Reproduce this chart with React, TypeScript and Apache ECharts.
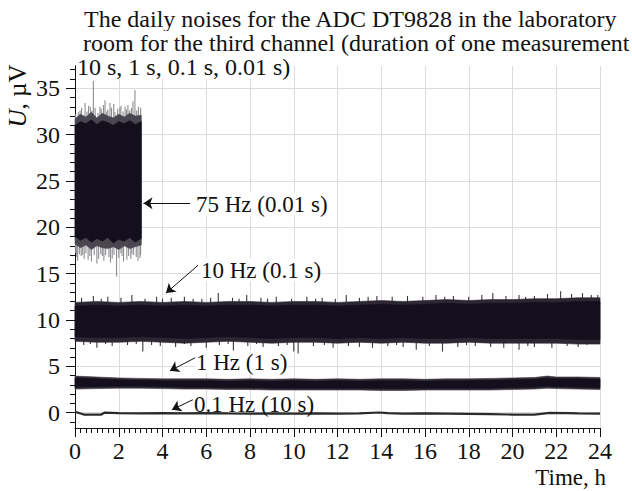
import React, { useEffect, useRef } from "react";
import * as echarts from "echarts";

// ---------- data ----------
const titleLines = [
  "The daily noises for the ADC DT9828 in the laboratory",
  "room for the third channel (duration of one measurement",
  "10 s, 1 s, 0.1 s, 0.01 s)",
];
const yMajorTicks = [0, 5, 10, 15, 20, 25, 30, 35];
const yMinorTicks = [-1, 1, 2, 3, 4, 6, 7, 8, 9, 11, 12, 13, 14, 16, 17, 18, 19, 21, 22, 23, 24, 26, 27, 28, 29, 31, 32, 33, 34, 36, 37];

// 75 Hz (0.01 s)
const hours75 = [0, 0.25, 0.5, 0.75, 1, 1.25, 1.5, 1.75, 2, 2.25, 2.5, 2.75, 3.03];
const core75Hi = [31.0, 31.4, 31.2, 31.6, 31.1, 31.5, 31.3, 31.0, 31.4, 31.2, 31.5, 31.1, 31.4];
const core75Lo = [19.0, 18.6, 18.9, 18.4, 18.8, 18.5, 18.9, 18.3, 18.7, 18.5, 18.9, 18.4, 18.8];
const fringe75Hi = [31.7, 32.2, 31.9, 32.4, 31.8, 32.3, 32.0, 31.8, 32.2, 31.9, 32.3, 32.0, 32.1];
const fringe75Lo = [18.2, 17.8, 18.1, 17.6, 18.0, 17.8, 17.7, 17.9, 17.6, 18.0, 17.7, 17.9, 18.1];
const center75 = 25;
const spikes75 = [
  [0.03, 32.2], [0.08, 16.8], [0.15, 32.4], [0.23, 32.6], [0.3, 32.9], [0.35, 17.0], [0.46, 33.4], [0.55, 32.5],
  [0.6, 16.5], [0.62, 33.1], [0.7, 33.0], [0.78, 32.6], [0.84, 35.8], [0.92, 32.9], [1.0, 16.1], [1.05, 32.3],
  [1.14, 33.0], [1.2, 32.8], [1.25, 16.9], [1.3, 33.2], [1.37, 33.7], [1.4, 17.0], [1.45, 32.5], [1.5, 32.7],
  [1.6, 33.4], [1.67, 32.9], [1.7, 16.6], [1.77, 33.3], [1.83, 32.4], [1.9, 14.7], [1.95, 32.8], [2.05, 32.9],
  [2.1, 33.1], [2.15, 16.9], [2.2, 32.5], [2.29, 33.0], [2.35, 32.7], [2.37, 16.5], [2.42, 33.2], [2.5, 32.6],
  [2.58, 32.9], [2.6, 17.1], [2.65, 33.6], [2.74, 34.8], [2.8, 16.8], [2.82, 32.6], [2.9, 33.0], [2.97, 16.7],
  [3.0, 32.9], [0.03, 17.2], [0.12, 16.4], [0.2, 17.1], [0.28, 16.9], [0.42, 16.6], [0.5, 17.2], [0.68, 16.9],
  [0.75, 16.3], [0.88, 17.0], [1.08, 16.6], [1.18, 17.1], [1.32, 16.4], [1.55, 16.8], [1.62, 16.2], [1.78, 17.0],
  [2.0, 16.7], [2.1, 17.2], [2.22, 16.3], [2.45, 16.9], [2.55, 16.6], [2.68, 17.0], [2.88, 16.4], [3.0, 17.0],
];

// 10 Hz (0.1 s)
const hours10 = [0, 1, 2, 3, 4, 5, 6, 7, 8, 9, 10, 11, 12, 13, 14, 15, 16, 17, 18, 19, 20, 21, 22, 23, 24];
const core10Hi = [11.5, 11.6, 11.5, 11.6, 11.5, 11.6, 11.5, 11.6, 11.6, 11.5, 11.6, 11.6, 11.5, 11.6, 11.7, 11.6, 11.7, 11.8, 11.7, 11.8, 11.8, 11.9, 11.9, 12.0, 12.0];
const core10Lo = [8.2, 8.1, 8.1, 8.2, 8.1, 8.0, 8.1, 8.2, 8.1, 8.0, 8.1, 8.1, 8.0, 8.1, 8.0, 8.1, 8.0, 8.0, 8.1, 8.0, 8.0, 8.0, 8.0, 7.9, 7.9];
const fringe10Hi = [11.9, 12.0, 11.9, 12.0, 11.9, 12.0, 11.9, 12.0, 12.0, 11.9, 12.0, 12.0, 11.9, 12.0, 12.1, 12.0, 12.1, 12.2, 12.1, 12.2, 12.2, 12.3, 12.3, 12.4, 12.4];
const fringe10Lo = [7.7, 7.6, 7.6, 7.7, 7.6, 7.5, 7.6, 7.7, 7.6, 7.5, 7.6, 7.6, 7.5, 7.6, 7.5, 7.6, 7.5, 7.5, 7.6, 7.5, 7.5, 7.5, 7.5, 7.4, 7.4];
const center10 = 10;
const spikes10 = [
  [0.3, 12.4], [0.84, 12.6], [1.2, 12.3], [1.5, 12.5], [2.1, 12.4], [2.6, 12.7], [3.2, 12.3], [3.73, 12.5], [4.0, 12.3], [4.4, 12.4],
  [5.0, 12.5], [5.4, 12.3], [5.8, 12.3], [6.2, 12.4], [6.55, 12.9], [7.2, 12.4], [7.5, 12.3], [7.85, 12.7], [8.5, 12.4], [8.8, 12.3], [9.2, 12.5], [9.9, 12.3],
  [10.6, 12.5], [11.0, 12.3], [11.3, 12.4], [11.9, 12.3], [12.4, 12.7], [13.0, 12.4], [13.4, 12.5], [13.8, 12.6], [14.5, 12.5], [15.2, 12.6], [15.9, 12.5],
  [16.5, 12.7], [16.9, 12.5], [17.3, 12.6], [18.0, 12.5], [18.6, 12.7], [19.1, 12.9], [19.7, 12.6], [20.3, 12.7], [20.6, 12.5], [21.0, 12.6],
  [21.6, 12.8], [22.2, 13.1], [22.7, 12.8], [23.2, 12.9], [23.6, 12.7], [23.9, 12.7],
  [0.4, 7.3], [0.7, 7.4], [1.0, 7.0], [1.4, 7.4], [1.7, 7.2], [2.4, 7.3], [2.8, 7.4], [3.1, 6.6], [3.5, 7.3], [3.9, 7.2], [4.6, 7.1], [5.0, 7.4], [5.3, 7.2],
  [6.0, 7.0], [6.6, 7.3], [7.0, 7.4], [7.24, 6.6], [7.9, 7.2], [8.3, 7.4], [8.6, 7.1], [9.3, 7.2], [9.7, 7.3], [10.0, 6.6], [10.2, 6.4],
  [10.9, 7.2], [11.4, 7.3], [11.8, 7.0], [12.5, 7.2], [13.0, 7.1], [13.6, 7.0], [14.3, 7.2], [14.7, 7.3], [15.0, 7.1], [15.6, 6.8],
  [16.2, 7.2], [16.8, 6.6], [17.5, 7.1], [17.9, 7.3], [18.3, 7.2], [19.0, 7.1], [19.6, 7.0], [20.3, 6.8], [20.7, 7.2], [21.0, 7.1],
  [21.8, 7.0], [22.5, 7.2], [23.0, 7.1], [23.4, 7.3],
];

// 1 Hz (1 s)
const hours1 = [0, 1, 2, 3, 4, 5, 6, 7, 8, 9, 10, 11, 12, 13, 14, 15, 16, 17, 18, 19, 20, 21, 21.6, 22, 23, 24];
const core1Hi = [3.75, 3.65, 3.55, 3.5, 3.45, 3.45, 3.45, 3.4, 3.45, 3.4, 3.45, 3.4, 3.45, 3.4, 3.45, 3.45, 3.4, 3.45, 3.45, 3.5, 3.55, 3.6, 3.75, 3.65, 3.65, 3.6];
const core1Lo = [2.75, 2.8, 2.85, 2.85, 2.8, 2.75, 2.75, 2.7, 2.7, 2.65, 2.65, 2.65, 2.65, 2.65, 2.6, 2.6, 2.65, 2.65, 2.65, 2.65, 2.7, 2.75, 2.85, 2.8, 2.75, 2.7];
const fringe1Hi = [3.95, 3.85, 3.75, 3.7, 3.65, 3.65, 3.65, 3.6, 3.65, 3.6, 3.65, 3.6, 3.65, 3.6, 3.65, 3.65, 3.6, 3.65, 3.65, 3.7, 3.75, 3.8, 3.95, 3.85, 3.85, 3.8];
const fringe1Lo = [2.55, 2.6, 2.65, 2.65, 2.6, 2.55, 2.55, 2.5, 2.5, 2.45, 2.45, 2.45, 2.45, 2.45, 2.4, 2.4, 2.45, 2.45, 2.45, 2.45, 2.5, 2.55, 2.65, 2.6, 2.55, 2.5];

// 0.1 Hz (10 s)
const line01 = [
  [0, 0.1], [0.4, -0.2], [1.2, -0.2], [1.35, 0.0], [2, -0.05], [3, -0.08], [4, -0.05], [5, -0.08], [6, -0.05],
  [7, -0.08], [8, -0.1], [9, -0.08], [10, -0.1], [11, -0.08], [12, -0.1], [13, -0.08], [13.9, 0.02], [14.3, -0.05],
  [15, -0.1], [16, -0.08], [17, -0.1], [18, -0.12], [19, -0.15], [20, -0.2], [21, -0.2], [21.7, -0.02], [22.5, -0.05],
  [23, -0.08], [24, -0.1],
];

// annotations (label, arrow tail [h, µV], arrow head [h, µV])
const annotations = [
  { text: "75 Hz (0.01 s)", from: [5.26, 22.6], to: [3.13, 22.6], x: 196, y: 204, bg: true },
  { text: "10 Hz (0.1 s)", from: [5.62, 15.9], to: [4.16, 12.9], x: 201, y: 270, bg: true },
  { text: "1 Hz (1 s)", from: [5.49, 5.92], to: [4.34, 4.52], x: 196, y: 362, bg: true },
  { text: "0.1 Hz (10 s)", from: [5.39, 1.4], to: [4.43, 0.32], x: 194, y: 404, bg: false },
];

const FONT = "'Liberation Serif', 'Times New Roman', serif";
const FS = 23;

function bandSeries(hours: number[], hi: number[], lo: number[], fill: string, z: number) {
  return {
    type: "custom",
    z,
    silent: true,
    data: [[0, 0]],
    renderItem: (_p: any, api: any) => {
      const pts: number[][] = [];
      for (let i = 0; i < hours.length; i++) pts.push(api.coord([hours[i], hi[i]]));
      for (let i = hours.length - 1; i >= 0; i--) pts.push(api.coord([hours[i], lo[i]]));
      return { type: "polygon", shape: { points: pts }, style: { fill, stroke: fill, lineWidth: 0.6 } };
    },
  };
}

function spikeSeries(spikes: number[][], center: number, color: string, z: number) {
  return {
    type: "custom",
    z,
    silent: true,
    data: spikes,
    renderItem: (_p: any, api: any) => {
      const a = api.coord([api.value(0), center]);
      const b = api.coord([api.value(0), api.value(1)]);
      return { type: "line", shape: { x1: a[0], y1: a[1], x2: b[0], y2: b[1] }, style: { stroke: color, lineWidth: 1.1 } };
    },
  };
}

export default function App() {
  const ref = useRef<HTMLDivElement>(null);
  useEffect(() => {
    if (!ref.current) return;
    const chart = echarts.init(ref.current, undefined, { renderer: "svg" });
    const axisCommon = {
      type: "value",
      min: -1.65,
      max: 37.4,
      position: "left",
      axisLine: { show: true, onZero: false, lineStyle: { color: "#111", width: 1 } },
    };
    const option: any = {
      animation: false,
      backgroundColor: "#fff",
      grid: { left: 75, top: 66, right: 32, bottom: 63, containLabel: false },
      xAxis: {
        type: "value",
        min: 0,
        max: 24,
        interval: 2,
        axisLine: { show: true, onZero: false, lineStyle: { color: "#111", width: 1 } },
        axisTick: { show: true, length: 9, lineStyle: { color: "#111" } },
        minorTick: { show: true, splitNumber: 8, length: 5, lineStyle: { color: "#111" } },
        axisLabel: { fontFamily: FONT, fontSize: 24, color: "#111", margin: 11 },
        splitLine: { show: true, lineStyle: { color: "#dcdcdc", width: 1 } },
      },
      yAxis: [
        {
          ...axisCommon,
          axisTick: { show: true, length: 9, customValues: yMajorTicks, lineStyle: { color: "#111" } },
          axisLabel: { fontFamily: FONT, fontSize: 24, color: "#111", margin: 15, customValues: yMajorTicks },
          splitLine: { show: true, lineStyle: { color: "#dcdcdc", width: 1 } },
        },
        {
          ...axisCommon,
          axisTick: { show: true, length: 5, customValues: yMinorTicks, lineStyle: { color: "#111" } },
          axisLabel: { show: false },
          splitLine: { show: false },
        },
      ],
      series: [
        spikeSeries(spikes75, center75, "#8e8e92", 2),
        bandSeries(hours75, fringe75Hi, fringe75Lo, "#4a4650", 3),
        bandSeries(hours75, core75Hi, core75Lo, "#140f1c", 4),
        spikeSeries(spikes10, center10, "#3a3540", 2),
        bandSeries(hours10, fringe10Hi, fringe10Lo, "#2c2733", 3),
        bandSeries(hours10, core10Hi, core10Lo, "#140f1c", 4),
        bandSeries(hours1, fringe1Hi, fringe1Lo, "#35303b", 3),
        bandSeries(hours1, core1Hi, core1Lo, "#140f1c", 4),
        {
          type: "line",
          z: 4,
          data: line01,
          showSymbol: false,
          silent: true,
          lineStyle: { color: "#2a2a2e", width: 2.2 },
        },
        {
          type: "lines",
          coordinateSystem: "cartesian2d",
          z: 6,
          silent: true,
          symbol: ["none", "arrow"],
          symbolSize: [0, 9],
          lineStyle: { color: "#111", width: 1, opacity: 1 },
          data: annotations.map((a) => ({ coords: [a.from, a.to] })),
        },
      ],
      graphic: [
        ...titleLines.map((t, i) => ({
          type: "text",
          x: i === 2 ? 77 : i === 1 ? 83 : 84,
          y: 19 + i * 24,
          z: 10,
          style: {
            text: t,
            fontFamily: FONT,
            fontSize: 24,
            fill: "#111",
            verticalAlign: "middle",
            backgroundColor: "#fff",
          },
        })),
        {
          type: "text",
          x: 17,
          y: 96,
          rotation: Math.PI / 2,
          style: {
            text: "{i|U}, µV",
            align: "center",
            verticalAlign: "middle",
            fontFamily: FONT,
            fontSize: 25,
            fill: "#111",
            rich: { i: { fontStyle: "italic", fontFamily: FONT, fontSize: 25, fill: "#111" } },
          },
        },
        {
          type: "text",
          x: 606,
          y: 477,
          style: { text: "Time, h", align: "right", verticalAlign: "middle", fontFamily: FONT, fontSize: FS, fill: "#111" },
        },
        ...annotations.map((a) => ({
          type: "text",
          x: a.x,
          y: a.y,
          z: 10,
          style: {
            text: a.text,
            align: "left",
            verticalAlign: "middle",
            fontFamily: FONT,
            fontSize: FS,
            fill: "#111",
            backgroundColor: a.bg ? "#fff" : "transparent",
          },
        })),
      ],
    };
    chart.setOption(option);
    return () => chart.dispose();
  }, []);
  return (
    <div
      ref={ref}
      style={{ position: "fixed", left: 0, top: 0, width: 632, height: 491, background: "#fff" }}
    />
  );
}
